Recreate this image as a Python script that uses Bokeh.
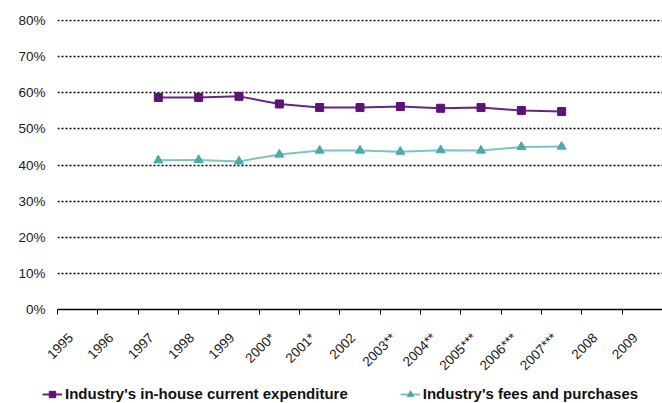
from bokeh.plotting import figure
from bokeh.models import (Range1d, FixedTicker, NumeralTickFormatter, Legend, LegendItem,
                          ColumnDataSource)
from bokeh.embed import file_html
from bokeh.resources import INLINE
import math

# ---- data ----
years = ["1995", "1996", "1997", "1998", "1999", "2000*", "2001*", "2002",
         "2003**", "2004**", "2005***", "2006***", "2007***", "2008", "2009"]
data_years = ["1997", "1998", "1999", "2000*", "2001*", "2002",
              "2003**", "2004**", "2005***", "2006***", "2007***"]
in_house = [0.587, 0.587, 0.590, 0.569, 0.559, 0.559, 0.562, 0.557, 0.559, 0.551, 0.548]
fees = [0.413, 0.414, 0.410, 0.429, 0.440, 0.440, 0.437, 0.441, 0.440, 0.450, 0.451]
y_ticks = [0.0, 0.1, 0.2, 0.3, 0.4, 0.5, 0.6, 0.7, 0.8]
series_names = ["Industry's in-house current expenditure", "Industry's fees and purchases"]

PURPLE = "#5E1275"
PURPLE_LINE = "#6A2283"
TEAL = "#4AABAB"
TEAL_LINE = "#7CC3C3"
FONT = "Liberation Sans"

# category centers on a numeric scale (category index + 0.5)
pos = {c: i + 0.5 for i, c in enumerate(years)}
xs = [pos[c] for c in data_years]
src = ColumnDataSource(dict(x=xs, in_house=in_house, fees=fees))

p = figure(width=662, height=381, output_backend="svg", toolbar_location=None,
           x_range=Range1d(0, len(years)), y_range=Range1d(0, 0.8028),
           min_border_left=57, min_border_right=0, min_border_top=19, min_border_bottom=70)
p.outline_line_color = None
p.background_fill_color = "white"
p.border_fill_color = "white"

# x axis: labels near category centers, tick marks at category boundaries
label_shift = 0.17
p.xaxis.ticker = FixedTicker(ticks=[pos[c] - label_shift for c in years],
                             minor_ticks=list(range(len(years) + 1)))
p.xaxis.major_label_overrides = {pos[c] - label_shift: c for c in years}
p.xaxis.major_label_orientation = math.pi / 4
p.xaxis.major_tick_in = 0
p.xaxis.major_tick_out = 0
p.xaxis.minor_tick_in = 0
p.xaxis.minor_tick_out = 5
p.xaxis.minor_tick_line_color = "black"
p.xaxis.minor_tick_line_width = 1
p.xaxis.axis_line_color = "black"
p.xaxis.axis_line_width = 1.3
p.xaxis.major_label_standoff = 21
p.xaxis.major_label_text_font = FONT
p.xaxis.major_label_text_font_size = "13.5px"
p.xaxis.major_label_text_color = "#1a1a1a"

# y axis
p.yaxis.ticker = FixedTicker(ticks=y_ticks)
p.yaxis.formatter = NumeralTickFormatter(format="0%")
p.yaxis.axis_line_color = None
p.yaxis.major_tick_in = 0
p.yaxis.major_tick_out = 0
p.yaxis.major_tick_line_color = None
p.yaxis.minor_tick_line_color = None
p.yaxis.major_label_standoff = 12
p.yaxis.major_label_text_font = FONT
p.yaxis.major_label_text_font_size = "13.5px"
p.yaxis.major_label_text_color = "#1a1a1a"

p.xgrid.grid_line_color = None
p.ygrid.grid_line_color = "black"
p.ygrid.grid_line_dash = "2 2"
p.ygrid.grid_line_width = 1.6

p.line("x", "in_house", source=src, line_color=PURPLE_LINE, line_width=2)
p.scatter("x", "in_house", source=src, marker="square", size=8,
          fill_color=PURPLE, line_color=PURPLE)
p.line("x", "fees", source=src, line_color=TEAL_LINE, line_width=2)
p.scatter("x", "fees", source=src, marker="triangle", size=9,
          fill_color=TEAL, line_color=TEAL)

# ---- legend strip below the chart (a separate root, full-width frame) ----
lg = figure(width=662, height=22, output_backend="svg", toolbar_location=None,
            x_range=Range1d(-100, -99), y_range=Range1d(-100, -99),
            x_axis_location=None, y_axis_location=None,
            min_border_left=0, min_border_right=0, min_border_top=0, min_border_bottom=0)
lg.outline_line_color = None
lg.xgrid.grid_line_color = None
lg.ygrid.grid_line_color = None
# same series, drawn outside this strip's visible range: only the legend shows
l1 = lg.line("x", "in_house", source=src, line_color=PURPLE_LINE, line_width=2)
m1 = lg.scatter("x", "in_house", source=src, marker="square", size=8,
                fill_color=PURPLE, line_color=PURPLE)
l2 = lg.line("x", "fees", source=src, line_color=TEAL_LINE, line_width=2)
m2 = lg.scatter("x", "fees", source=src, marker="triangle", size=9,
                fill_color=TEAL, line_color=TEAL)

legend = Legend(items=[
    LegendItem(label=series_names[0], renderers=[l1, m1]),
    LegendItem(label=series_names[1], renderers=[l2, m2]),
], orientation="horizontal", location=(42, 1))
legend.label_text_font = FONT
legend.label_text_font_style = "bold"
legend.label_text_font_size = "15px"
legend.label_text_color = "#111111"
legend.glyph_width = 20
legend.glyph_height = 16
legend.label_height = 16
legend.label_standoff = 3
legend.spacing = 52
legend.padding = 0
legend.margin = 0
legend.border_line_color = None
legend.background_fill_alpha = 0
lg.add_layout(legend)

open("out.html", "w").write(file_html([p, lg], INLINE))
